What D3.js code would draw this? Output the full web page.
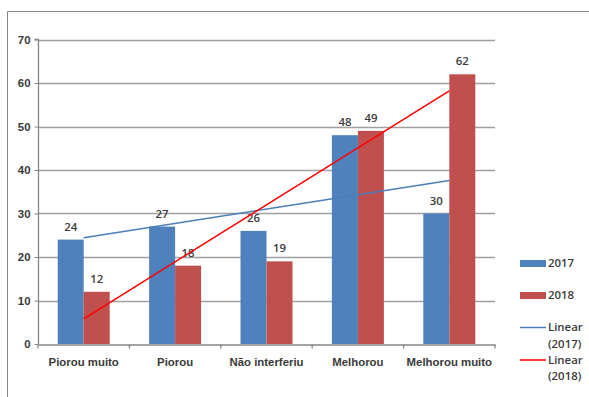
<!DOCTYPE html>
<html><head><meta charset="utf-8">
<script src="https://cdn.jsdelivr.net/npm/d3@7"></script>
<style>
html,body{margin:0;padding:0;background:#fff;}
svg{display:block;font-family:"Open Sans",sans-serif;}
</style></head>
<body><svg id="c" width="589" height="397"></svg>
<script>
const categories = ["Piorou muito","Piorou","Não interferiu","Melhorou","Melhorou muito"];
const series2017 = [24,27,26,48,30];
const series2018 = [12,18,19,49,62];
const seriesNames = ["2017","2018"];
const yTicks = [0,10,20,30,40,50,60,70];

const colors = {"2017":"#4F81BD","2018":"#C0504D"};
const trendColors = {"2017":"#4A7EBB","2018":"#FF0000"};
const textColor = "#3a3a3a";
const fs = "11.4px";

const svg = d3.select("#c");
// outer chart border
svg.append("path").attr("d","M7.5,400 V11.5 H600").attr("fill","none").attr("stroke","#868686").attr("stroke-width",1);

const pLeft = 38, pRight = 495, pTop = 39.5, pBottom = 344;
const x = d3.scaleBand().domain(categories).range([pLeft,pRight]).paddingInner(0).paddingOuter(0);
const y = d3.scaleLinear().domain([0,70]).range([pBottom, pTop]);

// gridlines
svg.append("g").selectAll("line").data(yTicks.filter(d=>d>0)).join("line")
  .attr("x1",pLeft).attr("x2",pRight)
  .attr("y1",d=>Math.round(y(d))+0.5).attr("y2",d=>Math.round(y(d))+0.5)
  .attr("stroke","#A0A0A0").attr("stroke-width",1.3);

const barW = 26;
const data = [series2017, series2018];

seriesNames.forEach((s,si)=>{
  const g = svg.append("g");
  const vals = data[si];
  const xc = (i)=> x(categories[i]) + x.bandwidth()/2 + (si===0 ? -barW : 0);
  g.selectAll("rect").data(vals).join("rect")
    .attr("x",(d,i)=>xc(i)).attr("width",barW)
    .attr("y",d=>y(d)).attr("height",d=>y(0)-y(d))
    .attr("fill",colors[s]);
});

// axes
const yAxis = d3.axisLeft(y).tickValues(yTicks).tickSize(4).tickPadding(5);
const gy = svg.append("g").attr("transform",`translate(${pLeft+0.5},0)`).call(yAxis);
gy.select(".domain").attr("stroke","#868686").attr("stroke-width",1.3).attr("d",`M-4,${y(70)}H0V${y(0)}`);
gy.selectAll(".tick line").attr("stroke","#868686");
gy.selectAll("text").attr("fill",textColor).style("font-size",fs).style("font-weight","600").attr("x",-8);

const xAxis = d3.axisBottom(x).tickSize(0).tickPadding(13);
const gx = svg.append("g").attr("transform",`translate(0,${pBottom+0.5})`).call(xAxis);
gx.select(".domain").attr("stroke","#868686").attr("stroke-width",1.3);
gx.selectAll("text").attr("fill",textColor).style("font-size",fs).style("font-weight","600");
// category boundary ticks
gx.append("g").selectAll("line").data(d3.range(categories.length+1)).join("line")
  .attr("x1",i=>pLeft+i*x.bandwidth()).attr("x2",i=>pLeft+i*x.bandwidth())
  .attr("y1",0).attr("y2",4).attr("stroke","#868686").attr("stroke-width",1.3);

// data labels
seriesNames.forEach((s,si)=>{
  const vals = data[si];
  svg.append("g").selectAll("text").data(vals).join("text")
    .attr("x",(d,i)=>x(categories[i]) + x.bandwidth()/2 + (si===0 ? -barW/2 : barW/2))
    .attr("y",d=>y(d)-9)
    .attr("text-anchor","middle")
    .attr("fill",textColor).style("font-size",fs).style("font-weight","600")
    .text(d=>d);
});

// linear trendlines (least squares over category index)
function fit(vals){
  const n = vals.length, xs = d3.range(1,n+1);
  const mx = d3.mean(xs), my = d3.mean(vals);
  const b = d3.sum(xs,(xv,i)=>(xv-mx)*(vals[i]-my))/d3.sum(xs,xv=>(xv-mx)**2);
  const a = my - b*mx;
  return xs.map(xv=>a+b*xv);
}
seriesNames.forEach((s,si)=>{
  const t = fit(data[si]);
  const n = t.length-1;
  const pts = [[x(categories[0])+x.bandwidth()/2, y(t[0])],[x(categories[n])+x.bandwidth()/2, y(t[n])]];
  svg.append("path").attr("d",d3.line()(pts))
    .attr("fill","none").attr("stroke",trendColors[s]).attr("stroke-width",1.5);
});

// legend
const lg = svg.append("g").style("font-size",fs).style("font-weight","600").attr("fill",textColor);
const legendBars = [{name:"2017",cy:263.5},{name:"2018",cy:295.5}];
legendBars.forEach(l=>{
  lg.append("rect").attr("x",520).attr("y",l.cy-3.5).attr("width",26).attr("height",7).attr("fill",colors[l.name]);
  lg.append("text").attr("x",548).attr("y",l.cy).attr("dy","0.35em").text(l.name);
});
const legendLines = [{name:"2017",cy:327.5},{name:"2018",cy:360}];
legendLines.forEach(l=>{
  lg.append("line").attr("x1",520).attr("x2",546).attr("y1",l.cy).attr("y2",l.cy).attr("stroke",trendColors[l.name]).attr("stroke-width",1.5);
  lg.append("text").attr("x",548).attr("y",l.cy).attr("dy","0.35em").text("Linear");
  lg.append("text").attr("x",548).attr("y",l.cy+16.5).attr("dy","0.35em").text("("+l.name+")");
});
</script></body></html>
